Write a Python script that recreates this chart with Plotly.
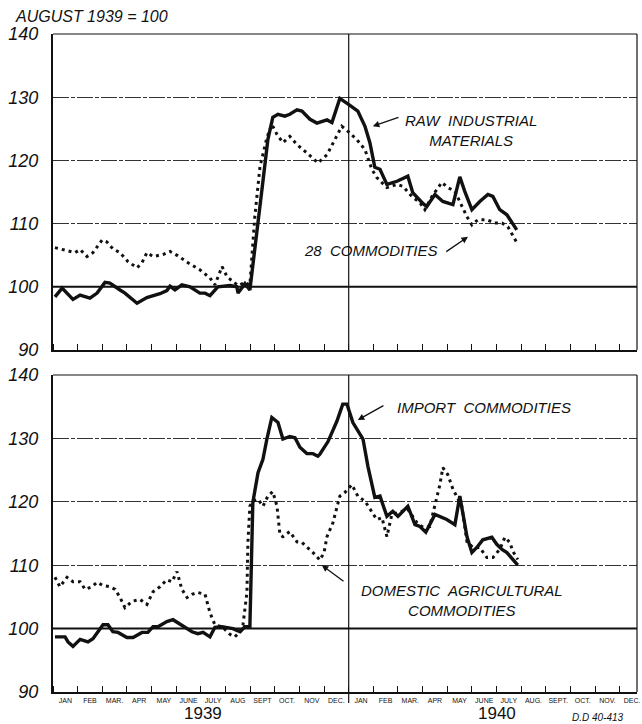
import plotly.graph_objects as go
from plotly.subplots import make_subplots

# ---------------- data (x = months since start of Jan 1939) ----------------
raw_x = [0.08, 0.37, 0.81, 1.10, 1.50, 1.79, 2.11, 2.31, 2.72, 2.92, 3.41, 3.81, 4.34, 4.62, 4.75, 4.95,
         5.23, 5.56, 5.96, 6.17, 6.37, 6.69, 7.18, 7.46, 7.51, 7.79, 7.99, 8.28, 8.52, 8.72, 8.92, 9.13,
         9.41, 9.61, 9.90, 10.10, 10.43, 10.71, 11.12, 11.32, 11.64, 12.05, 12.37, 12.66, 12.86, 13.06,
         13.27, 13.55, 13.96, 14.40, 14.60, 15.01, 15.17, 15.50, 15.82, 16.23, 16.51, 16.71, 17.00,
         17.32, 17.65, 17.85, 18.13, 18.42, 18.82]
raw_y = [98.4, 99.8, 98.0, 98.7, 98.2, 99.0, 100.7, 100.6, 99.5, 99.0, 97.4, 98.3, 98.9, 99.4, 100.1, 99.5,
         100.3, 100.0, 99.0, 99.0, 98.6, 100.0, 100.2, 100.0, 99.0, 100.5, 99.5, 109.5, 116.7, 123.3, 126.8, 127.3,
         127.0, 127.3, 128.0, 127.8, 126.5, 125.9, 126.4, 126.0, 129.8, 128.7, 127.8, 125.4, 122.8, 118.9,
         118.6, 116.2, 116.7, 117.5, 114.9, 113.2, 112.7, 114.6, 113.5, 113.0, 117.4, 115.1, 112.2,
         113.5, 114.6, 114.3, 112.2, 111.4, 109.0]

c28_x = [0.08, 0.57, 0.89, 1.10, 1.38, 1.62, 1.99, 2.19, 2.43, 2.72, 3.04, 3.41, 3.61, 3.81, 4.06, 4.46,
         4.75, 5.07, 5.48, 5.96, 6.37, 6.57, 6.86, 7.06, 7.30, 7.51, 7.79, 7.99, 8.19, 8.40, 8.68, 8.88,
         9.09, 9.33, 9.61, 9.90, 10.30, 10.75, 11.12, 11.44, 11.72, 11.97, 12.33, 12.66, 12.94, 13.14,
         13.55, 13.96, 14.20, 14.56, 14.89, 15.09, 15.38, 15.78, 16.02, 16.31, 16.59, 16.80, 17.00,
         17.24, 17.61, 17.93, 18.22, 18.46, 18.82]
c28_y = [106.2, 105.7, 105.4, 105.9, 104.8, 105.4, 107.4, 107.1, 106.0, 105.4, 104.0, 103.0, 103.8, 105.4, 104.8, 105.1,
         105.6, 104.9, 103.8, 102.7, 101.4, 100.3, 103.2, 101.6, 100.8, 100.2, 100.7, 100.3, 111.1, 119.0, 123.6, 125.7,
         124.1, 122.8, 123.8, 122.5, 121.2, 119.6, 120.9, 123.3, 125.4, 124.6, 123.3, 121.7, 118.6, 117.3,
         115.7, 116.2, 115.9, 114.3, 113.3, 112.2, 114.3, 116.5, 115.7, 115.1, 112.7, 111.1, 109.8,
         110.6, 110.6, 110.1, 110.1, 109.5, 107.0]

imp_x = [0.08, 0.49, 0.61, 0.81, 1.10, 1.42, 1.62, 1.83, 2.03, 2.23, 2.43, 2.64, 3.00, 3.25, 3.61, 3.85,
         4.06, 4.26, 4.62, 4.87, 5.23, 5.64, 5.88, 6.09, 6.37, 6.57, 6.86, 7.30, 7.59, 7.79, 7.99, 8.11,
         8.32, 8.52, 8.68, 8.88, 9.13, 9.33, 9.61, 9.82, 10.02, 10.30, 10.55, 10.75, 10.83, 11.16, 11.52,
         11.76, 11.93, 12.17, 12.58, 12.78, 13.06, 13.27, 13.55, 13.79, 14.00, 14.40, 14.69, 14.89, 15.13,
         15.50, 15.98, 16.31, 16.51, 16.80, 17.00, 17.20, 17.44, 17.81, 18.01, 18.22, 18.42, 18.86]
imp_y = [98.7, 98.7, 97.9, 97.2, 98.3, 97.9, 98.4, 99.5, 100.6, 100.6, 99.5, 99.4, 98.6, 98.6, 99.4, 99.4,
         100.3, 100.3, 101.1, 101.4, 100.5, 99.5, 99.2, 99.4, 98.7, 100.2, 100.3, 100.0, 99.5, 100.3, 100.3, 119.9,
         124.6, 126.7, 129.9, 133.3, 132.5, 129.9, 130.3, 130.1, 128.6, 127.6, 127.6, 127.2, 127.5, 129.5, 132.7,
         135.4, 135.4, 132.5, 129.9, 125.6, 120.7, 120.9, 117.7, 118.5, 117.7, 119.3, 116.4, 116.1, 115.2,
         118.0, 117.2, 116.4, 120.9, 114.5, 112.0, 112.8, 114.0, 114.4, 113.3, 112.5, 112.0, 110.0]

dom_x = [0.08, 0.28, 0.57, 0.81, 1.10, 1.30, 1.58, 1.79, 2.03, 2.31, 2.52, 2.72, 2.92, 3.20, 3.53, 3.81,
         4.06, 4.34, 4.62, 4.83, 5.03, 5.23, 5.44, 5.64, 5.88, 6.17, 6.37, 6.57, 6.86, 7.18, 7.38, 7.59,
         7.71, 7.87, 7.91, 7.99, 8.11, 8.32, 8.52, 8.72, 8.92, 9.09, 9.21, 9.33, 9.61, 9.90, 10.10, 10.34,
         10.63, 10.83, 11.00, 11.12, 11.36, 11.64, 11.85, 12.13, 12.37, 12.66, 12.94, 13.14, 13.35, 13.55,
         13.75, 14.00, 14.40, 14.77, 15.01, 15.29, 15.50, 15.70, 15.82, 16.02, 16.23, 16.43, 16.59, 16.80,
         17.04, 17.32, 17.61, 17.85, 18.13, 18.34, 18.54, 18.66, 18.86]
dom_y = [108.1, 106.6, 108.1, 107.4, 107.4, 106.2, 106.6, 107.3, 106.8, 106.6, 106.2, 104.9, 103.3, 104.3, 104.6, 103.8,
         105.8, 106.6, 107.7, 107.4, 109.0, 106.2, 104.9, 105.4, 105.7, 105.4, 102.5, 100.6, 100.3, 99.1, 98.7, 99.5,
         100.6, 105.7, 113.6, 119.3, 120.1, 120.4, 119.3, 120.9, 121.6, 119.3, 114.8, 114.5, 115.3, 113.7, 113.6, 112.8,
         111.7, 110.8, 112.0, 114.5, 116.7, 120.9, 121.5, 122.7, 120.9, 120.1, 118.3, 117.2, 117.5, 114.5,
         118.0, 118.3, 118.8, 116.7, 116.0, 116.1, 119.6, 122.7, 125.4, 124.3, 122.0, 120.4, 119.3, 113.7,
         112.8, 112.8, 111.2, 111.2, 112.5, 114.4, 113.6, 112.2, 110.9]

month_labels = ["JAN", "FEB", "MAR.", "APR", "MAY", "JUNE", "JULY", "AUG", "SEPT", "OCT.", "NOV", "DEC.",
                "JAN", "FEB", "MAR.", "APR", "MAY", "JUNE", "JULY", "AUG.", "SEPT.", "OCT.", "NOV.", "DEC."]
y_ticks = [90, 100, 110, 120, 130, 140]

# ---------------- figure ----------------
W, H = 642, 724
ML, MR, MT, MB = 53, 5, 34, 32
PH = H - MT - MB
PW = W - ML - MR
top_dom = [(692 - 350) / PH, 1.0]
bot_dom = [0.0, (692 - 375) / PH]

fig = make_subplots(rows=2, cols=1)
INK = "#111111"

solid = dict(color=INK, width=3.4)
dotted = dict(color=INK, width=3, dash="3px,4px")

fig.add_trace(go.Scatter(x=c28_x, y=c28_y, mode="lines", line=dotted, name="28 Commodities"), row=1, col=1)
fig.add_trace(go.Scatter(x=raw_x, y=raw_y, mode="lines", line=solid, name="Raw industrial materials"), row=1, col=1)
fig.add_trace(go.Scatter(x=dom_x, y=dom_y, mode="lines", line=dotted, name="Domestic agricultural commodities"), row=2, col=1)
fig.add_trace(go.Scatter(x=imp_x, y=imp_y, mode="lines", line=solid, name="Import commodities"), row=2, col=1)

XR = [0, 23.7]
month_pos = [i + 0.5 for i in range(len(month_labels))]
bounds = list(range(0, 25))

xcommon = dict(range=XR, showgrid=False, zeroline=False, showline=True, linecolor=INK, linewidth=2,
               automargin=False,
               tickmode="array", tickvals=month_pos, ticks="", ticklen=0,
               minor=dict(tickmode="array", tickvals=bounds, ticks="inside", ticklen=6,
                          tickcolor=INK, tickwidth=1.3, showgrid=False))
fig.update_xaxes(**xcommon)
fig.update_xaxes(ticktext=[""] * len(month_labels), row=1, col=1)
fig.update_xaxes(ticktext=month_labels, tickfont=dict(family="Liberation Sans", size=7, color=INK),
                 ticklabelstandoff=1, row=2, col=1)

ycommon = dict(range=[90, 140], tickmode="array", tickvals=y_ticks, ticktext=[str(v) for v in y_ticks],
               ticks="", showline=True, linecolor=INK, linewidth=2, zeroline=False, automargin=False,
               showgrid=True, gridcolor="#333333", gridwidth=1, griddash="16px,2px,4px,2px",
               tickfont=dict(family="Liberation Sans", size=18, color=INK, style="italic"),
               ticklabelstandoff=9)
fig.update_yaxes(**ycommon)

fig.update_layout(
    width=W, height=H, margin=dict(l=ML, r=MR, t=MT, b=MB, autoexpand=False),
    paper_bgcolor="white", plot_bgcolor="white", showlegend=False,
    xaxis=dict(domain=[0, 1]), xaxis2=dict(domain=[0, 1]),
    yaxis=dict(domain=top_dom), yaxis2=dict(domain=bot_dom),
)

shapes = []
for xr, yr in (("x", "y"), ("x2", "y2")):
    shapes.append(dict(type="line", xref=f"{xr} domain", yref=yr, x0=0, x1=1, y0=100, y1=100,
                       line=dict(color=INK, width=2)))
    shapes.append(dict(type="line", xref=f"{xr} domain", yref=f"{yr} domain", x0=0, x1=1, y0=1, y1=1,
                       line=dict(color=INK, width=1.2)))
    shapes.append(dict(type="line", xref=f"{xr} domain", yref=f"{yr} domain", x0=1, x1=1, y0=0, y1=1,
                       line=dict(color=INK, width=1.2)))
shapes.append(dict(type="line", xref="x", yref="y domain", x0=12, x1=12, y0=0, y1=1,
                   line=dict(color=INK, width=1.2)))
shapes.append(dict(type="line", xref="x2", yref="y2 domain", x0=12, x1=12, y0=-0.035, y1=1,
                   line=dict(color=INK, width=1.2)))
fig.update_layout(shapes=shapes)

it = dict(family="Liberation Sans", size=15, color=INK, style="italic")
ann = []
ann.append(dict(text="AUGUST 1939 = 100", xref="paper", yref="paper", x=(13 - ML) / PW,
                y=1 + 17 / PH, xanchor="left", yanchor="middle", showarrow=False,
                font=dict(family="Liberation Sans", size=16, color=INK, style="italic")))
ann.append(dict(text="RAW  INDUSTRIAL<br>MATERIALS", xref="x", yref="y", x=16.96, y=124.8,
                showarrow=False, font=it, align="center"))
ann.append(dict(text="", xref="x", yref="y", axref="x", ayref="y", x=12.98, y=125.4, ax=14.08, ay=126.9,
                showarrow=True, arrowhead=2, arrowsize=1, arrowwidth=1.3, arrowcolor=INK))
ann.append(dict(text="28  COMMODITIES", xref="x", yref="y", x=12.9, y=105.8,
                showarrow=False, font=it))
ann.append(dict(text="", xref="x", yref="y", axref="x", ayref="y", x=16.84, y=107.9, ax=15.9, ay=105.4,
                showarrow=True, arrowhead=2, arrowsize=1, arrowwidth=1.3, arrowcolor=INK))
ann.append(dict(text="IMPORT  COMMODITIES", xref="x2", yref="y2", x=17.49, y=134.8,
                showarrow=False, font=it))
ann.append(dict(text="", xref="x2", yref="y2", axref="x2", ayref="y2", x=12.37, y=132.9, ax=13.47, ay=135.3,
                showarrow=True, arrowhead=2, arrowsize=1, arrowwidth=1.3, arrowcolor=INK))
ann.append(dict(text="DOMESTIC  AGRICULTURAL<br>COMMODITIES", xref="x2", yref="y2", x=16.6, y=104.5,
                showarrow=False, font=it, align="center"))
ann.append(dict(text="", xref="x2", yref="y2", axref="x2", ayref="y2", x=10.91, y=110.0, ax=11.85, ay=107.3,
                showarrow=True, arrowhead=2, arrowsize=1, arrowwidth=1.3, arrowcolor=INK))
year_font = dict(family="Liberation Sans", size=17, color=INK)
ann.append(dict(text="1939", xref="x2", yref="paper", x=6.1, y=-(724 - 692) / PH, showarrow=False,
                yanchor="bottom", borderpad=0, font=year_font))
ann.append(dict(text="1940", xref="x2", yref="paper", x=18.0, y=-(724 - 692) / PH, showarrow=False,
                yanchor="bottom", borderpad=0, font=year_font))
ann.append(dict(text="D.D 40-413", xref="x2", yref="paper", x=22.1, y=-(717 - 692) / PH, showarrow=False,
                yanchor="middle", font=dict(family="Liberation Sans", size=10, color=INK, style="italic")))
fig.update_layout(annotations=ann)

fig.write_html("out.html", config={"displayModeBar": False},
               post_script="document.body.style.margin='0';document.body.style.padding='0';")
